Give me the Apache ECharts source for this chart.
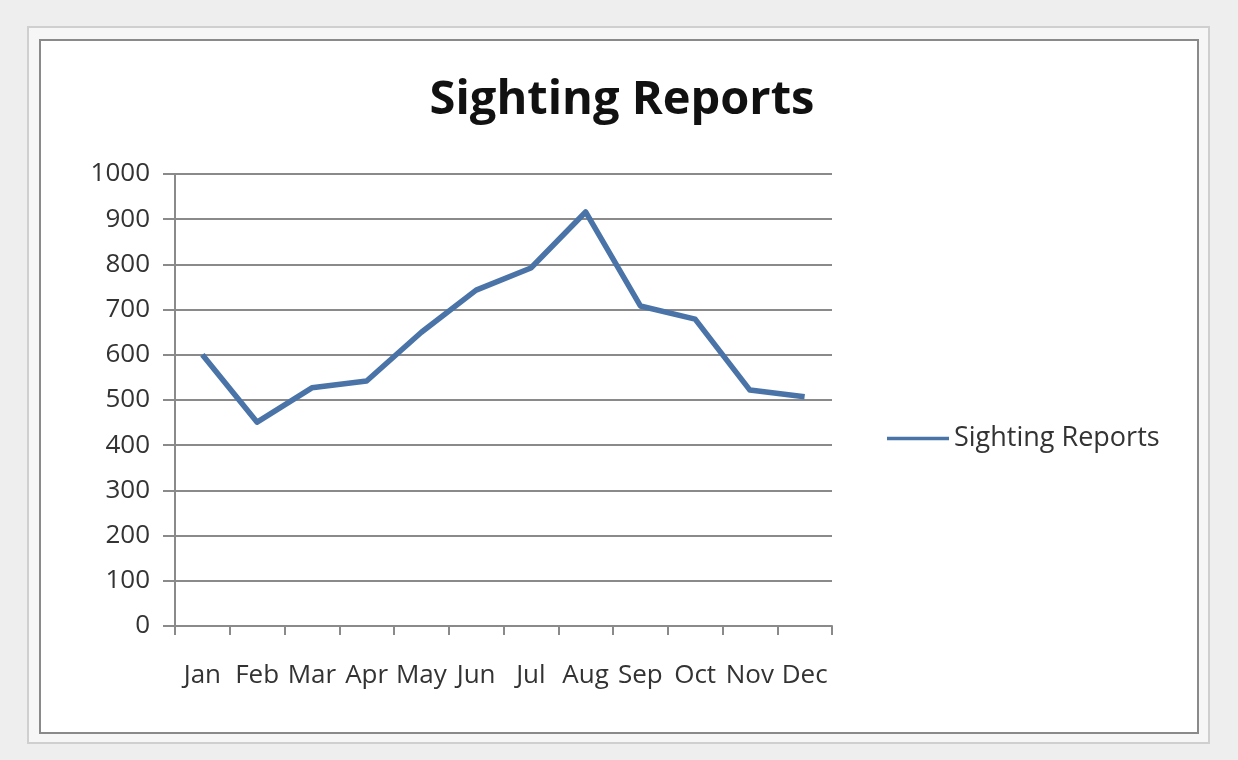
<!DOCTYPE html>
<html>
<head>
<meta charset="utf-8">
<script src="https://cdn.jsdelivr.net/npm/echarts@6/dist/echarts.min.js"></script>
<style>
html,body{margin:0;padding:0;background:#eeeeee;}
#c{width:1238px;height:760px;}
</style>
</head>
<body>
<div id="c"></div>
<script>
const categories = ['Jan','Feb','Mar','Apr','May','Jun','Jul','Aug','Sep','Oct','Nov','Dec'];
const sightings = [600, 451, 527, 542, 650, 743, 792, 916, 708, 679, 522, 507];
const seriesName = 'Sighting Reports';

const chart = echarts.init(document.getElementById('c'));
chart.setOption({
  backgroundColor: '#eeeeee',
  animation: false,
  graphic: [
    {type:'rect', z:-10, shape:{x:28,y:27,width:1181,height:716}, style:{fill:'#f6f6f6', stroke:'#cfcfcf', lineWidth:2}},
    {type:'rect', z:-9, shape:{x:40,y:40,width:1158,height:693}, style:{fill:'#ffffff', stroke:'#8a8a8a', lineWidth:2}}
  ],
  title: {
    text: 'Sighting Reports',
    left: 617, top: 72, textAlign: 'center',
    textStyle: {fontFamily:'Open Sans', fontWeight:'bold', fontSize:47, color:'#111111'}
  },
  legend: {
    left: 882, top: 420,
    itemWidth: 62, itemHeight: 14,
    itemGap: 6,
    textStyle: {fontFamily:'Open Sans', fontSize:27, color:'#333333'},
    data: [{name: seriesName, icon: 'path://M0,6 L62,6 L62,9.5 L0,9.5 Z'}]
  },
  grid: {left:175, top:174, right:406, bottom:134},
  xAxis: {
    type: 'category',
    data: categories,
    boundaryGap: true,
    axisLine: {show:true, lineStyle:{color:'#8a8a8a', width:2}},
    axisTick: {show:true, length:9, lineStyle:{color:'#8a8a8a', width:2}},
    axisLabel: {margin:37, fontFamily:'Open Sans', fontSize:26, color:'#333333', interval:0},
    splitLine: {show:false}
  },
  yAxis: {
    type: 'value',
    min: 0, max: 1000, interval: 100,
    axisLine: {show:true, lineStyle:{color:'#8a8a8a', width:2}},
    axisTick: {show:true, length:12, lineStyle:{color:'#8a8a8a', width:2}},
    axisLabel: {margin:25, fontFamily:'Open Sans', fontSize:26, color:'#333333', formatter: v => String(v)},
    splitLine: {show:true, lineStyle:{color:'#8a8a8a', width:2}}
  },
  series: [{
    name: seriesName,
    type: 'line',
    data: sightings,
    symbol: 'none',
    lineStyle: {color:'#4a74a8', width:5.5, join:'round'},
    itemStyle: {color:'#4a74a8'}
  }]
});
</script>
</body>
</html>
